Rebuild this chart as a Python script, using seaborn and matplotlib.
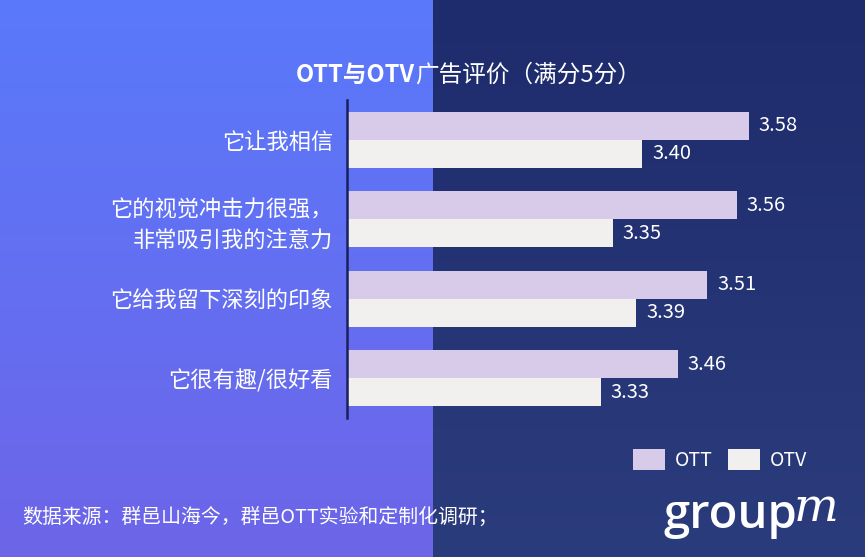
import numpy as np
import pandas as pd
import matplotlib
matplotlib.use('Agg')
import matplotlib.pyplot as plt
import seaborn as sns

categories = ['它让我相信', '它的视觉冲击力很强，\n非常吸引我的注意力', '它给我留下深刻的印象', '它很有趣/很好看']
ott = [3.58, 3.56, 3.51, 3.46]
otv = [3.40, 3.35, 3.39, 3.33]
series = ['OTT', 'OTV']

df = pd.DataFrame({
    'category': categories * 2,
    'score': ott + otv,
    'series': ['OTT'] * len(categories) + ['OTV'] * len(categories),
})

sns.set_style('white')
plt.rcParams['font.family'] = ['Noto Sans CJK SC', 'DejaVu Sans']

W, H = 865, 557
fig = plt.figure(figsize=(W / 100, H / 100), dpi=100)

#%% background: two gradient panels
def hex2rgb(h):
    h = h.lstrip('#')
    return np.array([int(h[i:i + 2], 16) for i in (0, 2, 4)]) / 255.0

t = np.linspace(0, 1, H)[:, None, None]
left = hex2rgb('#5A79FB') * (1 - t) + hex2rgb('#6D65E8') * t
right = hex2rgb('#1E2B6C') * (1 - t) + hex2rgb('#2B3C7C') * t
split = 433
bg = np.concatenate([np.repeat(left, split, axis=1), np.repeat(right, W - split, axis=1)], axis=1)
bg_ax = fig.add_axes([0, 0, 1, 1], zorder=0)
bg_ax.imshow(bg, aspect='auto', extent=[0, 1, 0, 1])
bg_ax.axis('off')

#%% bars
ax = fig.add_axes([347 / W, 139 / H, (849 - 347) / W, 318 / H], zorder=1)
ax.patch.set_alpha(0)
sns.barplot(data=df, y='category', x='score', hue='series', hue_order=series,
            palette=['#D6C6EE', '#F2F0EE'], width=0.7, orient='h', ax=ax, linewidth=0)
ax.set_xlim(2.9, 3.75)
ax.set_ylim(3.5, -0.5)
ax.get_legend().remove()
for c in ax.containers:
    ax.bar_label(c, fmt='%.2f', padding=7, color='white', fontsize=14.5)

for s in ['top', 'right', 'bottom']:
    ax.spines[s].set_visible(False)
ax.spines['left'].set_color('#18215E')
ax.spines['left'].set_linewidth(1.8)
ax.set_xticks([])
ax.set_xlabel('')
ax.set_ylabel('')
ax.tick_params(axis='y', length=0, pad=10, labelsize=16, labelcolor='white')
for lbl in ax.get_yticklabels():
    lbl.set_linespacing(1.45)

#%% texts
fig.text(415 / W, 1 - 75 / H, 'OTT与OTV', ha='right', va='center',
         color='white', fontsize=17, fontweight='bold')
fig.text(415 / W, 1 - 75 / H, '广告评价（满分5分）', ha='left', va='center',
         color='white', fontsize=17)
fig.text(22 / W, 1 - 517 / H, '数据来源：群邑山海今，群邑OTT实验和定制化调研；', ha='left', va='center',
         color='white', fontsize=14.3)

handles, labels = ax.get_legend_handles_labels()
fig.legend(handles, labels, loc='upper left', bbox_to_anchor=(633 / W, 1 - 449 / H), ncol=2,
           frameon=False, fontsize=14, labelcolor='white', handlelength=1.65, handleheight=1.3,
           handletextpad=0.5, columnspacing=0.8, borderpad=0, borderaxespad=0)

fig.text(663 / W, 1 - 528 / H, 'group', ha='left', va='baseline', color='white',
         fontsize=34, family='Open Sans', fontweight='semibold')
fig.text(794 / W, 1 - 521 / H, 'm', ha='left', va='baseline', color='white',
         fontsize=34, family='DejaVu Serif', style='italic')

fig.savefig('out.png', dpi=100)
